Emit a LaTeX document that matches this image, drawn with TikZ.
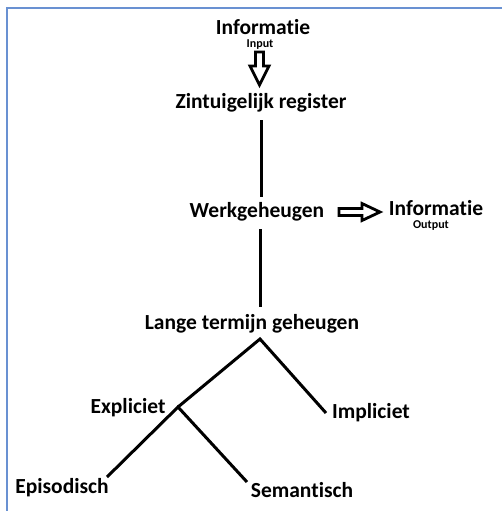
\documentclass[tikz,border=0pt]{standalone}
\usepackage{fontspec}
\setmainfont[Ligatures={NoCommon}]{Carlito}
\begin{document}
\begin{tikzpicture}[x=1pt,y=-1pt,
  lbl/.style={font=\bfseries\fontsize{21.5}{23}\selectfont, inner sep=0pt, anchor=center},
  small/.style={font=\bfseries\fontsize{12}{13}\selectfont, inner sep=0pt, anchor=center},
  nodepth/.style={text depth=0pt},
  conn/.style={line width=3pt, black},
  hollow/.style={line width=2.8pt, black, line join=miter, fill=white}]
\useasboundingbox (0,0) rectangle (502,511);
\draw[line width=2pt, color={rgb,255:red,105;green,145;blue,210}] (7,511) -- (7,8) -- (502,8);
% nodes
\node[lbl, nodepth] (info1) at (263,27) {Informatie};
\node[small, nodepth] (input) at (260,44) {Input};
\node[lbl] (zint) at (261,103) {Zintuigelijk register};
\node[lbl] (werk) at (257,212) {Werkgeheugen};
\node[lbl, nodepth] (info2) at (436,208) {Informatie};
\node[small, nodepth] (output) at (431,225) {Output};
\node[lbl] (lange) at (252,324) {Lange termijn geheugen};
\node[lbl] (expl) at (128,408) {Expliciet};
\node[lbl] (impl) at (371,413) {Impliciet};
\node[lbl] (epi) at (62,488) {Episodisch};
\node[lbl] (sem) at (302,490) {Semantisch};
% coordinates
\coordinate (z1) at (261,120);
\coordinate (z2) at (261,197);
\coordinate (w1) at (260,229);
\coordinate (w2) at (260,307);
\coordinate (apex) at (260,339);
\coordinate (ej) at (178,407);
\coordinate (ie) at (326,413);
\coordinate (ee) at (107,477);
\coordinate (se) at (247,482);
% hollow arrows
\draw[hollow] (255.5,52) -- (263.5,52) -- (263.5,66) -- (269,66) -- (259.5,85) -- (250,66) -- (255.5,66) -- cycle;
\draw[hollow] (339,208.5) -- (362,208.5) -- (362,203.5) -- (380,212) -- (362,220.5) -- (362,215.5) -- (339,215.5) -- cycle;
% connectors
\draw[conn] (z1) -- (z2);
\draw[conn] (w1) -- (w2);
\draw[conn] (ej) -- (apex) -- (ie);
\draw[conn] (ee) -- (ej) -- (se);
\end{tikzpicture}
\end{document}
